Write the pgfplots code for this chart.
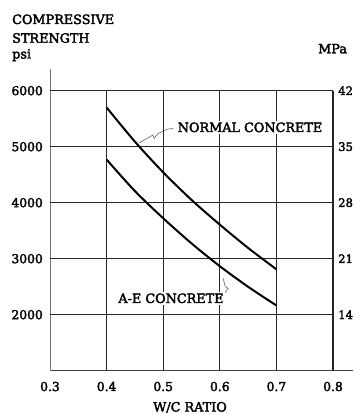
\documentclass[border=0pt]{standalone}
\usepackage{pgfplots}
\pgfplotsset{compat=1.18}
\usepackage{fontspec}
\setmainfont{DejaVu Serif}[FakeBold=2.5]
\begin{document}
\fontsize{12.8}{15}\selectfont
\begin{tikzpicture}
\begin{axis}[
  at={(0,0)}, anchor=south west,
  scale only axis, width=303pt, height=301.4pt,
  xmin=0.3, xmax=0.8353, ymin=1000, ymax=6382,
  axis x line=bottom, axis y line=left,
  x axis line style={-, line width=1.1pt, black!75},
  y axis line style={-, line width=0.9pt, black!55},
  xtick={0.3,0.4,0.5,0.6,0.7,0.8},
  ytick={2000,3000,4000,5000,6000},
  major tick length=0pt,
  /pgf/number format/assume math mode=true,
  xticklabel={\pgfmathprintnumber[fixed,fixed zerofill,precision=1]{\tick}},
  yticklabel={\pgfmathprintnumber[fixed,1000 sep={}]{\tick}},
  xticklabel style={anchor=base, yshift=-20.3pt, inner sep=0pt, font=\fontsize{12.3}{14}\selectfont},
  yticklabel style={anchor=east, xshift=-7pt, inner sep=0pt, font=\fontsize{12.3}{14}\selectfont},
  clip=false,
]
% grid
\foreach \yy in {2000,3000,4000,5000,6000}{
  \edef\tmp{\noexpand\draw[line width=1.3pt, black!85] (axis cs:0.3,\yy) -- (axis cs:0.8,\yy);}\tmp
}
\foreach \xx in {0.4,0.5,0.6,0.7,0.8}{
  \edef\tmp{\noexpand\draw[line width=1.3pt, black!85] (axis cs:\xx,1000) -- (axis cs:\xx,6000);}\tmp
}
% curves
\addplot[black, line width=2pt, smooth] coordinates {
  (0.40,5700) (0.45,5090) (0.50,4542) (0.55,4050) (0.60,3608) (0.65,3192) (0.70,2810)};
\addplot[black, line width=2pt, smooth] coordinates {
  (0.40,4770) (0.45,4208) (0.50,3722) (0.55,3273) (0.60,2866) (0.65,2498) (0.70,2165)};
% leaders
\draw[black!60, line width=0.6pt] (axis cs:0.4573,5066) -- (axis cs:0.4820,5209) -- (axis cs:0.4838,5146) -- (axis cs:0.4908,5236) -- (axis cs:0.5085,5316) -- (axis cs:0.5173,5325);
\draw[black!60, line width=0.6pt] (axis cs:0.6060,2648) -- (axis cs:0.6095,2505) -- (axis cs:0.6148,2470) -- (axis cs:0.6095,2398) -- (axis cs:0.6025,2335);
% labels
\node[fill=white, inner sep=1.5pt] at (axis cs:0.6534,5346) {NORMAL CONCRETE};
\node[fill=white, inner sep=1.5pt] at (axis cs:0.5137,2293) {A-E CONCRETE};
% right MPa labels
\begin{scope}[every node/.style={anchor=west, inner sep=0pt, xshift=5pt, font=\fontsize{11.6}{14}\selectfont}]
\node at (axis cs:0.8,6000) {42};
\node at (axis cs:0.8,5000) {35};
\node at (axis cs:0.8,4000) {28};
\node at (axis cs:0.8,3000) {21};
\node at (axis cs:0.8,2000) {14};
\end{scope}
\end{axis}
\node[anchor=base west, inner sep=0pt] at (-38pt,346.7pt) {COMPRESSIVE};
\node[anchor=base west, inner sep=0pt] at (-38pt,328pt) {STRENGTH};
\node[anchor=base west, inner sep=0pt] at (-38pt,312.2pt) {psi};
\node[anchor=base west, inner sep=0pt] at (268pt,317.4pt) {MPa};
\node[anchor=base, inner sep=0pt] at (140pt,-40.8pt) {W/C RATIO};
\pgfresetboundingbox
\path (-50pt,-43.3pt) rectangle (305pt,370.7pt);
\end{tikzpicture}
\end{document}
